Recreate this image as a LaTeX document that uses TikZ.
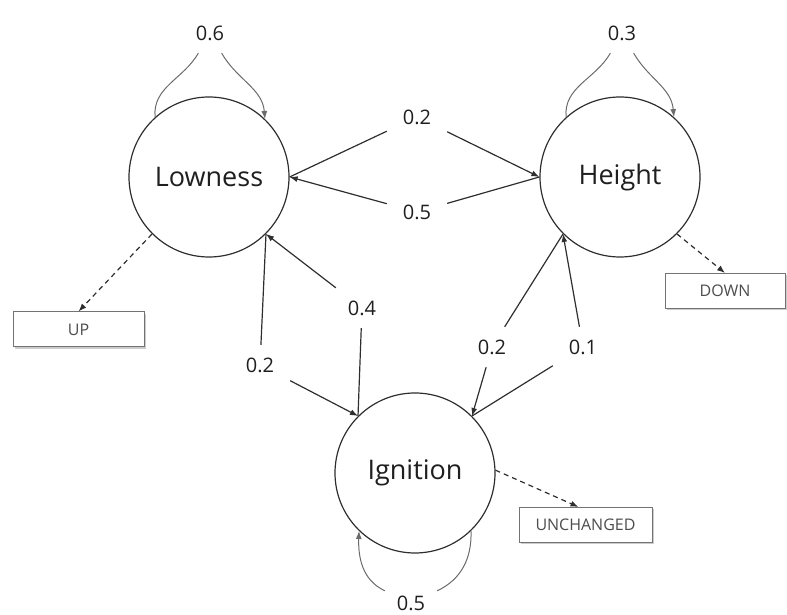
\documentclass[tikz,border=0pt]{standalone}
\usepackage{fontspec}
\setmainfont{Open Sans}
\usepackage{tikz}
\usetikzlibrary{arrows.meta,shadows,positioning}
\definecolor{edge}{rgb}{0.18,0.18,0.18}
\definecolor{loopc}{rgb}{0.42,0.42,0.42}
\definecolor{txt}{rgb}{0.12,0.12,0.12}
\newcommand{\stsize}{160pt}

\begin{document}
\begin{tikzpicture}[x=1pt,y=1pt,
	state/.style={circle, draw=edge, line width=1.2pt, minimum size=\stsize,
		inner sep=0, text=txt, font=\fontsize{27}{32}\selectfont},
	prob/.style={rectangle, minimum width=60pt, minimum height=40pt, inner sep=0,
		text=txt, font=\fontsize{20}{24}\selectfont},
	outbox/.style={rectangle, draw=black!55, line width=1pt, fill=white,
		minimum height=35pt, inner sep=0, text=black!70,
		font=\fontsize{16}{19}\selectfont,
		drop shadow={shadow xshift=2pt, shadow yshift=-2pt, fill=black!40}},
	trans/.style={draw=edge, line width=1.2pt},
	selfloop/.style={draw=loopc, line width=1pt},
	outarr/.style={draw=edge, line width=1.2pt, dash pattern=on 5pt off 4pt},
	>={Latex[length=8pt,width=6pt]}]
	
	\useasboundingbox (0,0) rectangle (787,615);
	
	% states
	\node[state] (low) at (209,438) {Lowness};
	\node[state] (hei) at (620,438) {Height};
	\node[state] (ign) at (415,142) {Ignition};
	
	% probabilities
	\node[prob] (pLL) at (210,582) {0.6};
	\node[prob] (pHH) at (622,582) {0.3};
	\node[prob, minimum height=24pt] (pII) at (411,12) {0.5};
	\node[prob] (pLH) at (417,498) {0.2};
	\node[prob] (pHL) at (417,403) {0.5};
	\node[prob] (pLI) at (260,250) {0.2};
	\node[prob] (pIL) at (362,307) {0.4};
	\node[prob] (pHI) at (492,268) {0.2};
	\node[prob] (pIH) at (583,268) {0.1};
	
	% outputs
	\node[outbox, minimum width=131pt] (up) at (78.5,285.5) {UP};
	\node[outbox, minimum width=120pt] (down) at (725,324) {DOWN};
	\node[outbox, minimum width=133pt] (unch) at (585.5,90) {UNCHANGED};
	
	% self loops
	\draw[selfloop] (low.132) to[out=95,in=240] (pLL);
	\draw[selfloop,->] (pLL) to[out=-60,in=95] (low.46);
	\draw[selfloop] (hei.132) to[out=95,in=240] (pHH);
	\draw[selfloop,->] (pHH) to[out=-60,in=95] (hei.48);
	\draw[selfloop] (ign.-46) to[out=-88,in=25] (pII);
	\draw[selfloop,->] (pII) to[out=155,in=-92] (ign.226);
	
	% transitions
	\draw[trans] (low.east) -- (pLH);
	\draw[trans,->] (pLH) -- (hei.west);
	\draw[trans] (hei.west) -- (pHL);
	\draw[trans,->] (pHL) -- (low.east);
	\draw[trans] (low.-45) -- (pLI);
	\draw[trans,->] (pLI) -- (ign.135);
	\draw[trans] (ign.135) -- (pIL);
	\draw[trans,->] (pIL) -- (low.-45);
	\draw[trans] (hei.-135) -- (pHI);
	\draw[trans,->] (pHI) -- (ign.45);
	\draw[trans] (ign.45) -- (pIH);
	\draw[trans,->] (pIH) -- (hei.-135);
	
	% outputs
	\draw[outarr,->] (low.-135) -- (up.north);
	\draw[outarr,->] (hei.-45) -- (down.north);
	\draw[outarr,->] (ign.2) -- ([xshift=-7pt]unch.north);
\end{tikzpicture}
\end{document}
